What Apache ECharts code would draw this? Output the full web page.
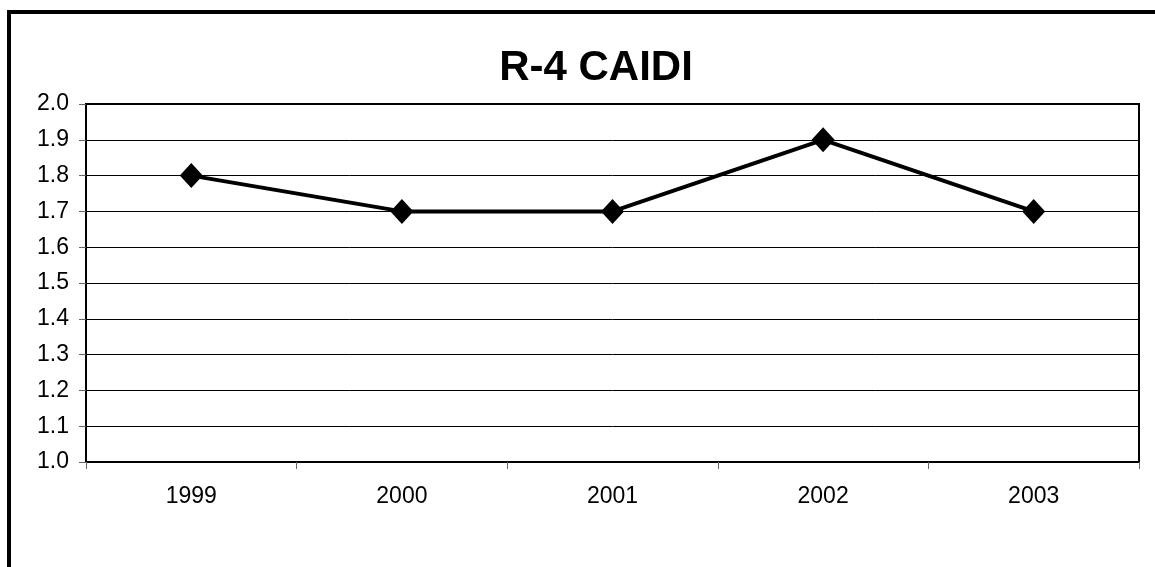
<!DOCTYPE html>
<html><head><meta charset="utf-8">
<script src="https://cdn.jsdelivr.net/npm/echarts@6/dist/echarts.min.js"></script>
<style>html,body{margin:0;padding:0;background:#fff}#c{width:1155px;height:567px}</style>
</head><body><div id="c"></div>
<script>
const categories = ['1999', '2000', '2001', '2002', '2003'];
const caidiValues = [1.8, 1.7, 1.7, 1.9, 1.7];
const titleText = 'R-4 CAIDI';

const chart = echarts.init(document.getElementById('c'), null, {renderer: 'canvas'});
chart.setOption({
  animation: false,
  backgroundColor: '#fff',
  title: {
    text: titleText, left: 591, top: 42, textAlign: 'center',
    textStyle: {fontFamily: 'Liberation Sans, Arial', fontWeight: 'bold', fontSize: 42, color: '#000'}
  },
  graphic: [{
    type: 'rect', shape: {x: 9, y: 12, width: 1200, height: 600},
    style: {fill: 'none', stroke: '#000', lineWidth: 4}, silent: true
  }],
  grid: {left: 86, top: 104, right: 16, bottom: 105, show: true, borderColor: '#000', borderWidth: 2, backgroundColor: 'transparent'},
  xAxis: {
    type: 'category', data: categories, boundaryGap: true,
    axisLine: {lineStyle: {color: '#000', width: 2}},
    axisTick: {show: true, length: 7, lineStyle: {color: '#666', width: 1}},
    axisLabel: {color: '#000', fontSize: 23, fontFamily: 'Liberation Sans, Arial', margin: 23}
  },
  yAxis: {
    type: 'value', min: 1.0, max: 2.0, interval: 0.1,
    axisLine: {show: true, lineStyle: {color: '#000', width: 2}},
    axisTick: {show: true, length: 7, lineStyle: {color: '#666', width: 1}},
    axisLabel: {color: '#000', fontSize: 23, fontFamily: 'Liberation Sans, Arial', margin: 17, formatter: v => v.toFixed(1)},
    splitLine: {show: true, lineStyle: {color: '#000', width: 1}}
  },
  series: [{
    type: 'line', data: caidiValues,
    lineStyle: {color: '#000', width: 4},
    itemStyle: {color: '#000'},
    symbol: 'diamond', symbolSize: [23, 25]
  }]
});
</script></body></html>
